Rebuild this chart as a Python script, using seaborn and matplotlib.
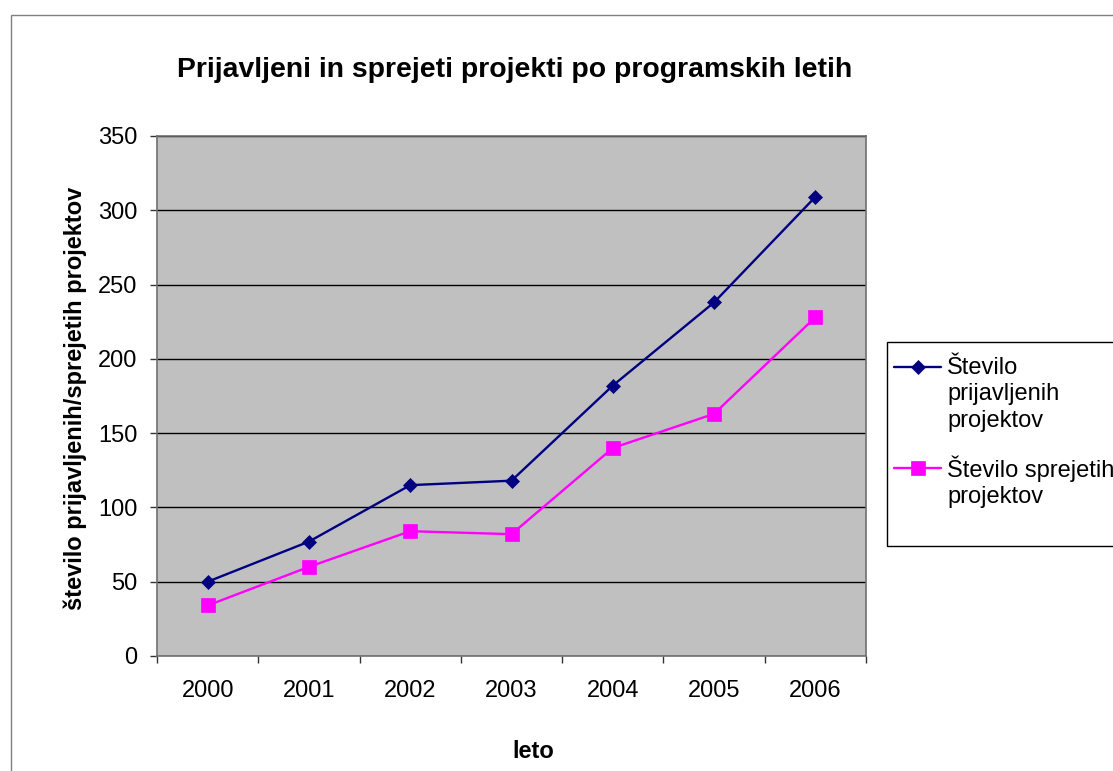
import numpy as np
import pandas as pd
import matplotlib
matplotlib.use("Agg")
import matplotlib.pyplot as plt
import matplotlib.transforms as mtransforms
import seaborn as sns
from matplotlib.legend_handler import HandlerLine2D
from matplotlib.patches import Rectangle

# data
years = [2000, 2001, 2002, 2003, 2004, 2005, 2006]
prijavljeni = [50, 77, 115, 118, 182, 238, 309]
sprejeti = [34, 60, 84, 82, 140, 163, 228]
series_names = ["Število\nprijavljenih\nprojektov", "Število sprejetih\nprojektov"]
series_values = [prijavljeni, sprejeti]
colors = ["#000080", "#FF00FF"]
markers = ["D", "s"]
marker_sizes = [6.8, 9.5]

W, H = 1113, 771
FS = 17

sns.set_style("white")
plt.rcParams["font.family"] = ["Liberation Sans", "DejaVu Sans"]
plt.rcParams["text.color"] = "black"


class TopLineHandler(HandlerLine2D):
    """Legend handle aligned with the first line of a multi-line label."""

    def __init__(self, shift, **kw):
        super().__init__(**kw)
        self.shift = shift

    def create_artists(self, legend, orig_handle, xdescent, ydescent,
                       width, height, fontsize, trans):
        arts = super().create_artists(legend, orig_handle, xdescent, ydescent,
                                      width, height, fontsize, trans)
        t = mtransforms.Affine2D().translate(0, self.shift) + trans
        for a in arts:
            a.set_transform(t)
        return arts


fig = plt.figure(figsize=(W / 100, H / 100), dpi=100)
ax = fig.add_axes([157 / W, 1 - 656 / H, (866 - 157) / W, (656 - 136) / H])
ax.set_facecolor("#C0C0C0")

for name, vals, c, m, ms in zip(series_names, series_values, colors, markers, marker_sizes):
    df = pd.DataFrame({"leto": years, "stevilo": vals})
    sns.lineplot(data=df, x="leto", y="stevilo", color=c, marker=m, markersize=ms,
                 markeredgecolor=c, markeredgewidth=0.5, linewidth=1.7,
                 label=name, ax=ax)

handles, labels = ax.get_legend_handles_labels()
ax.get_legend().remove()

ax.set_ylim(0, 350)
ax.set_yticks(np.arange(0, 351, 50))
ax.set_xlim(years[0] - 0.5, years[-1] + 0.5)
ax.set_xticks(years)
ax.set_xticklabels([str(y) for y in years])
ax.set_xticks(np.arange(years[0] - 0.5, years[-1] + 1, 1), minor=True)
ax.set_xlabel("")
ax.set_ylabel("")

ax.tick_params(axis="x", which="major", length=0, pad=17.5, labelsize=FS,
               labelcolor="black", bottom=True)
ax.tick_params(axis="x", which="minor", length=5, width=1, color="#333333",
               direction="out", bottom=True)
ax.tick_params(axis="y", which="major", length=5, width=1, color="#333333",
               direction="out", pad=9, labelsize=FS, labelcolor="black", left=True)

ax.yaxis.grid(True, color="black", linewidth=1)
ax.xaxis.grid(False)
ax.set_axisbelow(True)
for s in ax.spines.values():
    s.set_color("#707070")
    s.set_linewidth(1.2)

fig.text(514.5 / W, 1 - 76.7 / H, "Prijavljeni in sprejeti projekti po programskih letih",
         ha="center", va="baseline", fontsize=20.4, fontweight="bold")
fig.text(533 / W, 1 - 758.3 / H, "leto", ha="center", va="baseline",
         fontsize=FS, fontweight="bold")
fig.text(82 / W, 1 - 398 / H, "število prijavljenih/sprejetih projektov",
         rotation=90, rotation_mode="anchor", ha="center", va="baseline",
         fontsize=FS, fontweight="bold")

leg = fig.legend(handles, labels, loc="upper left",
                 bbox_to_anchor=(894 / W, 1 - 357 / H), frameon=False,
                 fontsize=FS, handlelength=2.0, handletextpad=0.25,
                 borderpad=0, borderaxespad=0, labelspacing=1.0,
                 handler_map={handles[0]: TopLineHandler(20),
                              handles[1]: TopLineHandler(10)})
for t in leg.get_texts():
    t.set_linespacing(1.25)

# chart outer border and legend box, both running off the image edge
fig.add_artist(Rectangle((11 / W, -0.1), 1.2, 1 - 15 / H + 0.1,
                         transform=fig.transFigure, fill=False,
                         edgecolor="#808080", linewidth=1))
fig.add_artist(Rectangle((887 / W, 1 - 546 / H), 0.3, (546 - 342) / H,
                         transform=fig.transFigure, fill=False,
                         edgecolor="black", linewidth=1))

fig.savefig("out.png", dpi=100)
